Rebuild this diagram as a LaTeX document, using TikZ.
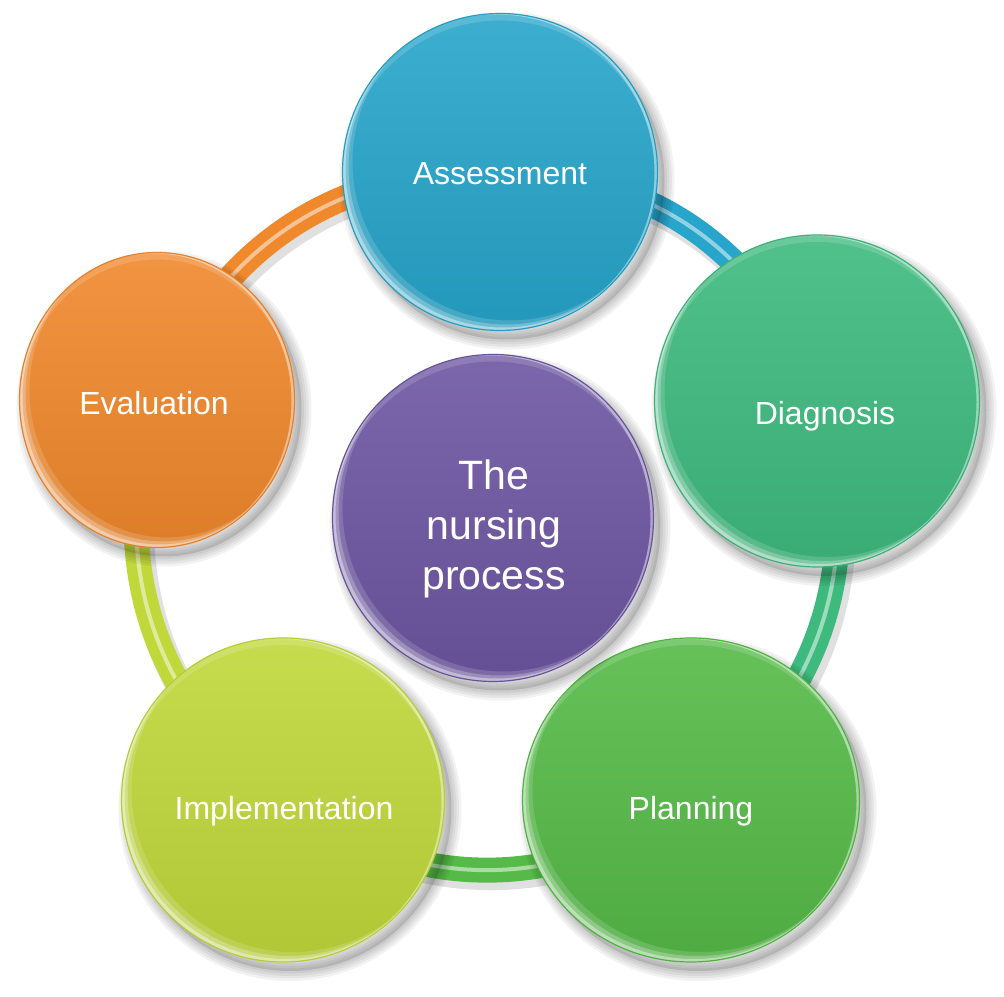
\documentclass[tikz,border=0pt]{standalone}
\usepackage{fontspec}
\setmainfont{Liberation Sans}
\usetikzlibrary{shapes.geometric,backgrounds}
\definecolor{asA}{HTML}{27A5CA}
\definecolor{asD}{HTML}{3EBA7E}
\definecolor{asP}{HTML}{55BA47}
\definecolor{asI}{HTML}{C0D83A}
\definecolor{asE}{HTML}{F0882C}
\definecolor{asC}{HTML}{6D56A2}
\tikzset{
  halo/.style={preaction={draw=black, opacity=.05, line width=#1, transform canvas={shift={(7pt,-9pt)}}}},
  bubble/.style 2 args={ellipse, inner sep=0pt, minimum width=#1, minimum height=#2,
    halo=20pt, halo=15pt, halo=10pt, halo=5pt,
    preaction={fill=black, opacity=.12, transform canvas={shift={(7pt,-9pt)}}},
    path picture={
      \foreach \d/\o in {3/.4,6/.25,10/.15}
        \fill[white, opacity=\o, even odd rule] (path picture bounding box.center)
          ellipse ({#1/2} and {#2/2}) ++(\d pt,\d pt) ellipse ({#1/2} and {#2/2});
      \fill[white, opacity=.45, even odd rule] (path picture bounding box.center)
        ellipse ({#1/2} and {#2/2}) ++(-3pt,-1pt) ellipse ({#1/2} and {#2/2});
      \fill[white, opacity=.15, even odd rule] (path picture bounding box.center)
        ellipse ({#1/2} and {#2/2}) ++(0pt,-7pt) ellipse ({#1/2} and {#2/2});
    }},
  tint/.style={top color=#1!90!white, bottom color=#1!92!black, draw=#1!95!black, line width=1.2pt},
  tag/.style={text=white, font=\fontsize{32}{38}\selectfont},
  tube/.style={line width=25pt, draw=#1,
    preaction={draw=black, opacity=.12, line width=28pt, transform canvas={shift={(4pt,-6pt)}}},
    postaction={draw=white, line width=4pt, opacity=.5}},
}
\begin{document}
\begin{tikzpicture}[x=1pt, y=1pt]
\useasboundingbox (0,0) rectangle (1004,996);

\node[bubble={315pt}{317pt}, tint=asA] (assess) at (500,824) {};
\node[bubble={325pt}{332pt}, tint=asD] (diag) at (817,595) {};
\node[bubble={337pt}{324pt}, tint=asP] (plan) at (691,196) {};
\node[bubble={323pt}{324pt}, tint=asI] (impl) at (283,196) {};
\node[bubble={275pt}{295pt}, tint=asE] (eval) at (157,596) {};
\node[bubble={321pt}{327pt}, tint=asC] (core) at (493,478) {};

\node[tag] (lassess) at (500,822) {Assessment};
\node[tag] (ldiag) at (825,580) {Diagnosis};
\node[tag] (lplan) at (691,185) {Planning};
\node[tag] (limpl) at (284,185) {Implementation};
\node[tag] (leval) at (154,593) {Evaluation};
\node[tag, font=\fontsize{41}{50}\selectfont, align=center] (lcore) at (494,467) {The\\nursing\\process};

\begin{scope}[on background layer]
\fill[white] (0,0) rectangle (1004,996);
\foreach \a/\b/\c in {assess/diag/asA, diag/plan/asD, plan/impl/asP, impl/eval/asI, eval/assess/asE}
  \draw[tube=\c] (\a.center) to[bend left=36] (\b.center);
\end{scope}
\end{tikzpicture}
\end{document}
